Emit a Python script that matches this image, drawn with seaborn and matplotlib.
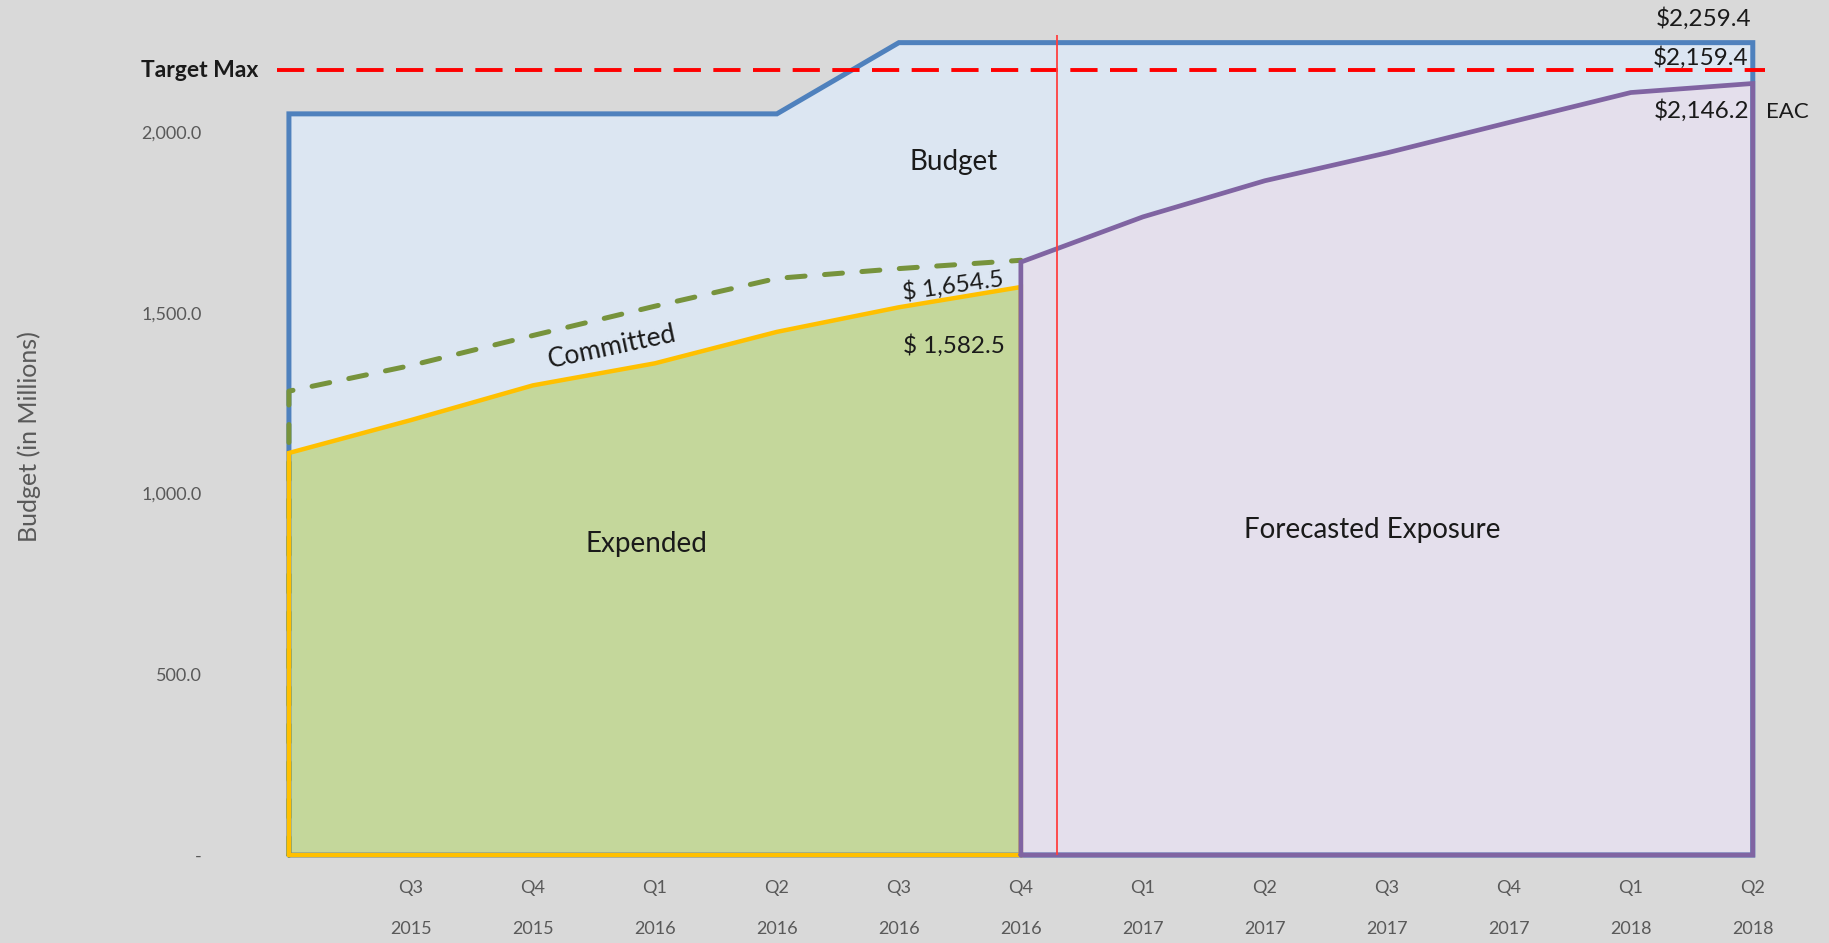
import numpy as np
import pandas as pd
import seaborn as sns
import matplotlib.pyplot as plt

# quarter positions, first slot has no label (start point)
quarters = ["", "Q3\n2015", "Q4\n2015", "Q1\n2016", "Q2\n2016", "Q3\n2016", "Q4\n2016",
            "Q1\n2017", "Q2\n2017", "Q3\n2017", "Q4\n2017", "Q1\n2018", "Q2\n2018"]
budget = [2050, 2050, 2050, 2050, 2050, 2247, 2247, 2247, 2247, 2247, 2247, 2247, 2247]
committed = [1283, 1354, 1437, 1518, 1595, 1622, 1645]       # Q2 2015 .. Q4 2016
expended = [1112, 1203, 1299, 1360, 1447, 1515, 1571]        # Q2 2015 .. Q4 2016
forecast = [1640, 1765, 1865, 1942, 2026, 2109, 2134]        # Q4 2016 .. Q2 2018
target_max = 2170
today_pos = 6.3

sns.set_theme(style="white")
plt.rcParams["font.family"] = ["Lato", "DejaVu Sans"]

bg = "#D9D9D9"
fig = plt.figure(figsize=(18.29, 9.43), dpi=100, facecolor=bg)
ax = fig.add_axes([0.1513, 0.0933, 0.8137, 0.8818])
ax.set_facecolor(bg)


def outline(start, vals):
    # closed area outline: up from zero, along the values, down, back along the base
    end = start + len(vals) - 1
    x = np.r_[start, np.arange(start, end + 1), end, start]
    y = np.r_[0, vals, 0, 0]
    return pd.DataFrame({"x": x, "y": y})


def draw_area(start, vals, fill, edge, lw, dashed=False, do_fill=True):
    xs = np.arange(start, start + len(vals))
    if do_fill:
        ax.fill_between(xs, 0, vals, color=fill, lw=0)
    df = outline(start, vals)
    if dashed:
        # open dashed line (no base)
        df = df.iloc[:-2]
    ln = sns.lineplot(data=df, x="x", y="y", sort=False, estimator=None, ax=ax,
                      color=edge, lw=lw)
    line = ln.lines[-1]
    line.set_solid_joinstyle("miter")
    line.set_clip_on(False)
    if dashed:
        line.set_dashes([3.6, 3.9])
        line.set_dash_capstyle("round")


draw_area(0, budget, "#DCE6F2", "#4F81BD", 3.6)
draw_area(0, committed, None, "#77933C", 3.6, dashed=True, do_fill=False)
draw_area(0, expended, "#C4D79B", "#FFC000", 3.2)
draw_area(6, forecast, "#E4DFEC", "#8064A2", 3.4)

ax.axhline(target_max, color="#FF0000", lw=2.8, dashes=(7.0, 3.2), zorder=5)
ax.vlines(today_pos, 0, 2268, color="#FF4040", lw=1.3, zorder=5)

ax.set_xlim(-0.1, 12.1)
ax.set_ylim(0, 2300)
ax.set_yticks([0, 500, 1000, 1500, 2000])
ax.set_yticklabels(["-" if v == 0 else f"{v:,.1f}" for v in [0, 500, 1000, 1500, 2000]],
                   fontsize=13, color="#595959")
ax.set_xticks(range(len(quarters)))
ax.set_xticklabels(quarters, fontsize=13, color="#595959", linespacing=2.9)
ax.tick_params(axis="y", length=0, pad=54)
ax.tick_params(axis="x", length=0, pad=18)
ax.set_xlabel("")
ax.set_ylabel("")
fig.text(0.016, 0.537, "Budget (in Millions)", fontsize=18, color="#595959",
         rotation=90, ha="center", va="center")
for s in ax.spines.values():
    s.set_visible(False)

txt = "#1A1A1A"
ax.text(5.45, 1916, "Budget", fontsize=20, color=txt, ha="center", va="center")
ax.text(2.65, 1405, "Committed", fontsize=19, color=txt, ha="center", va="center", rotation=12)
ax.text(2.93, 861, "Expended", fontsize=20, color=txt, ha="center", va="center")
ax.text(8.88, 900, "Forecasted Exposure", fontsize=20, color=txt, ha="center", va="center")
ax.text(5.44, 1574, "$ 1,654.5", fontsize=17.5, color=txt, ha="center", va="center", rotation=8)
ax.text(5.45, 1410, "$ 1,582.5", fontsize=17.5, color=txt, ha="center", va="center")
ax.text(11.6, 2313, "$2,259.4", fontsize=17.5, color=txt, ha="center", va="center", clip_on=False)
ax.text(11.57, 2206, "$2,159.4", fontsize=17.5, color=txt, ha="center", va="center")
ax.text(11.58, 2060, "$2,146.2", fontsize=17.5, color=txt, ha="center", va="center")
ax.text(12.28, 2056, "EAC", fontsize=16, color=txt, ha="center", va="center", clip_on=False)
ax.text(-0.73, target_max, "Target Max", fontsize=16.5, fontweight="bold", color=txt,
        ha="center", va="center", clip_on=False)

fig.savefig("out.png", dpi=100, facecolor=bg)
